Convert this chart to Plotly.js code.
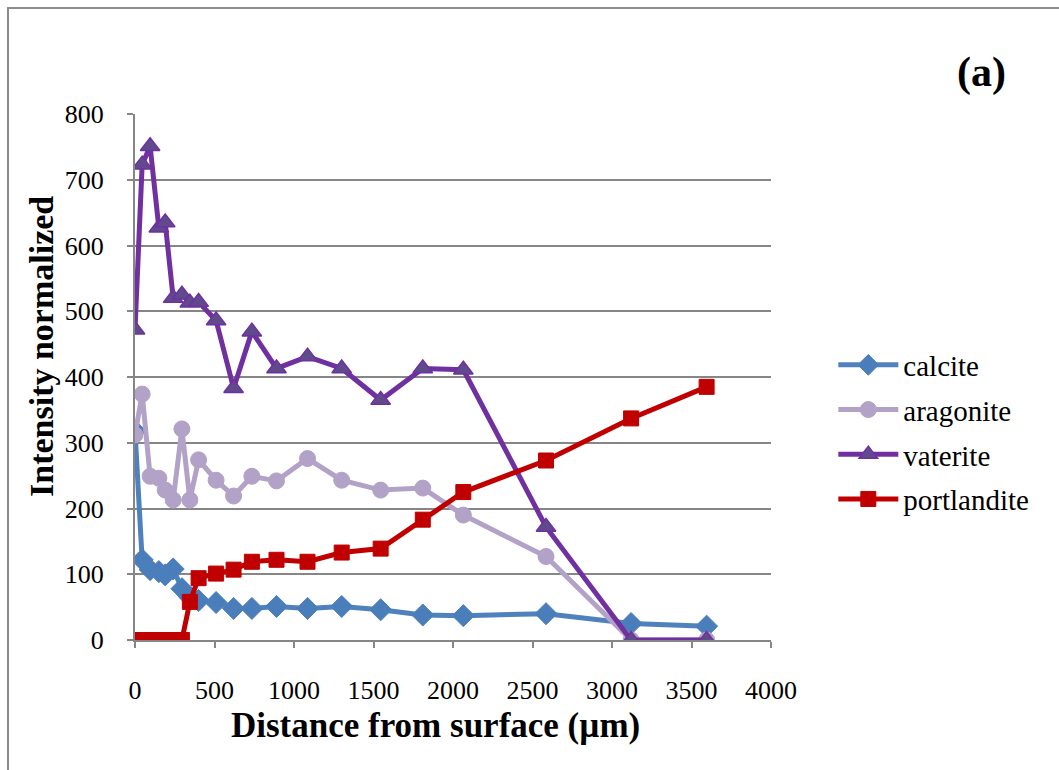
<!DOCTYPE html>
<html>
<head>
<meta charset="utf-8">
<script src="https://cdn.plot.ly/plotly-3.0.1.min.js"></script>
<style>
  html, body { margin: 0; padding: 0; background: #ffffff; }
  #chart { width: 1059px; height: 770px; }
</style>
</head>
<body>
<div id="chart"></div>
<script>
// Distance from surface (µm)
const distance = [0, 45, 95, 150, 190, 240, 295, 345, 400, 510, 620, 735, 890, 1085, 1300, 1545, 1810, 2065, 2585, 3120, 3595];

const calcite     = [318, 122, 107, 104, 99, 108, 78, 65, 60, 57, 48, 48, 51, 48, 51, 46, 38, 37, 40, 25, 21];
const aragonite   = [312, 374, 249, 246, 228, 213, 321, 213, 274, 243, 219, 249, 242, 276, 243, 228, 231, 190, 127, 0, 0];
const vaterite    = [472, 723, 751, 627, 635, 520, 525, 513, 514, 486, 383, 469, 413, 431, 413, 365, 413, 411, 172, 0, 0];
const portlandite = [0, 0, 0, 0, 0, 0, 0, 58, 94, 101, 107, 119, 122, 119, 133, 139, 183, 225, 273, 337, 385];

const seriesNames = ['calcite', 'aragonite', 'vaterite', 'portlandite'];
const xTickVals = [0, 500, 1000, 1500, 2000, 2500, 3000, 3500, 4000];
const yTickVals = [0, 100, 200, 300, 400, 500, 600, 700, 800];

const serif = '"Liberation Serif", "Times New Roman", serif';

const traces = [
  {
    x: distance, y: calcite, name: seriesNames[0], legendgroup: 'g1',
    mode: 'lines+markers', type: 'scatter',
    line: { color: '#4F81BD', width: 5 },
    marker: { symbol: 'diamond', size: 17, color: '#4A7EBB', line: { color: '#4F81BD', width: 1 } }
  },
  {
    x: distance, y: aragonite, name: seriesNames[1], legendgroup: 'g2',
    mode: 'lines+markers', type: 'scatter',
    line: { color: '#B3A2C7', width: 5 },
    marker: { symbol: 'circle', size: 16, color: '#B3A2C7', line: { color: '#B3A2C7', width: 1 } }
  },
  {
    x: distance, y: vaterite, name: seriesNames[2], legendgroup: 'g3',
    mode: 'lines+markers', type: 'scatter',
    line: { color: '#7030A0', width: 5 },
    marker: { symbol: 'triangle-up', size: 17, color: '#5F4B8B', line: { color: '#7030A0', width: 1.5 } }
  },
  {
    x: distance, y: portlandite, name: seriesNames[3], legendgroup: 'g4',
    mode: 'lines+markers', type: 'scatter',
    line: { color: '#C00000', width: 5 },
    marker: { symbol: 'square', size: 15, color: '#C00000', line: { color: '#C00000', width: 1 } }
  }
];

const layout = {
  width: 1059, height: 770,
  margin: { l: 135, r: 288, t: 114, b: 130 },
  paper_bgcolor: '#ffffff',
  plot_bgcolor: '#ffffff',
  font: { family: serif, color: '#000000', size: 26 },
  showlegend: true,
  legend: {
    x: 1.098, xanchor: 'left', y: (640 - 432) / 526, yanchor: 'middle',
    font: { family: serif, size: 29, color: '#000000' },
    tracegroupgap: 4,
    itemwidth: 60,
    bgcolor: 'rgba(0,0,0,0)'
  },
  xaxis: {
    range: [0, 4000], tickvals: xTickVals, ticktext: xTickVals.map(String),
    showgrid: false, zeroline: false,
    showline: true, linecolor: '#868686', linewidth: 2,
    ticks: 'outside', ticklen: 6, tickwidth: 2, tickcolor: '#868686',
    ticklabelstandoff: 20,
    tickfont: { family: serif, size: 26, color: '#000000' }
  },
  yaxis: {
    range: [0, 800], tickvals: yTickVals, ticktext: yTickVals.map(String),
    showgrid: true, gridcolor: '#868686', gridwidth: 2,
    zeroline: false,
    showline: true, linecolor: '#868686', linewidth: 2,
    ticks: 'outside', ticklen: 6, tickwidth: 2, tickcolor: '#868686',
    ticklabelstandoff: 18,
    tickfont: { family: serif, size: 26, color: '#000000' }
  },
  annotations: [
    {
      text: '<b>Distance from surface (µm)</b>',
      xref: 'paper', yref: 'paper',
      x: (435 - 135) / 636, y: -(725 - 640) / 526,
      xanchor: 'center', yanchor: 'middle', showarrow: false,
      font: { family: serif, size: 35, color: '#000000' }
    },
    {
      text: '<b>Intensity normalized</b>',
      xref: 'paper', yref: 'paper', textangle: -90,
      x: (41 - 135) / 636, y: (640 - 347) / 526,
      xanchor: 'center', yanchor: 'middle', showarrow: false,
      font: { family: serif, size: 34, color: '#000000' }
    },
    {
      text: '<b>(a)</b>',
      xref: 'paper', yref: 'paper',
      x: (981 - 135) / 636, y: 1 + (114 - 73) / 526,
      xanchor: 'center', yanchor: 'middle', showarrow: false,
      font: { family: serif, size: 42, color: '#000000' }
    }
  ],
  shapes: [
    {
      type: 'rect', xref: 'paper', yref: 'paper',
      x0: (8 - 135) / 636, x1: (1070 - 135) / 636,
      y0: -(780 - 640) / 526, y1: 1 + (114 - 8) / 526,
      line: { color: '#8C8C8C', width: 2 }, fillcolor: 'rgba(0,0,0,0)', layer: 'below'
    }
  ]
};

Plotly.newPlot('chart', traces, layout, { displayModeBar: false, staticPlot: true });
</script>
</body>
</html>
